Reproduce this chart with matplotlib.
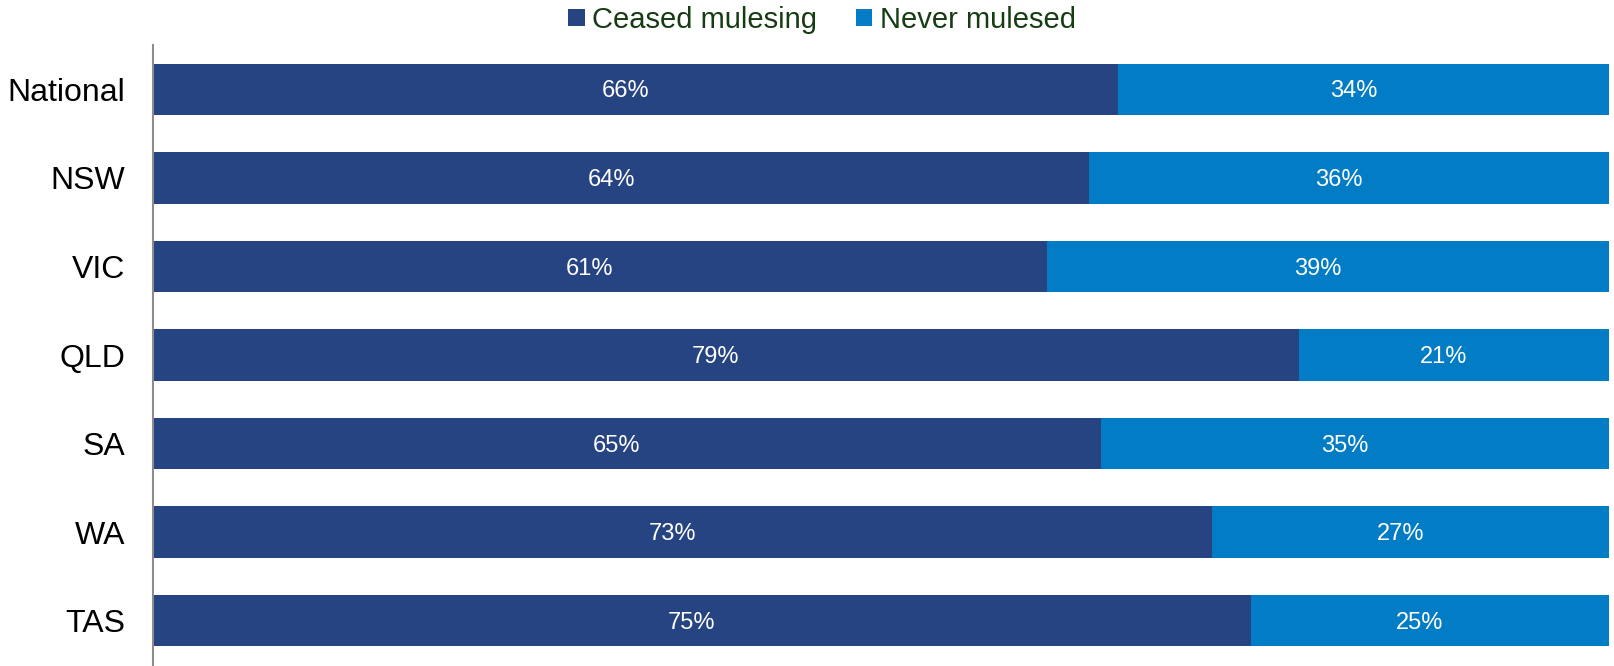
import matplotlib
matplotlib.use("Agg")
import matplotlib.pyplot as plt
import numpy as np
from matplotlib.patches import Patch

categories = ["National", "NSW", "VIC", "QLD", "SA", "WA", "TAS"]
ceased = [66.3, 64.3, 61.4, 78.7, 65.1, 72.7, 75.4]
never = [33.7, 35.7, 38.6, 21.3, 34.9, 27.3, 24.6]
series_names = ["Ceased mulesing", "Never mulesed"]
colors = ["#264382", "#027CC4"]

plt.rcParams['font.family'] = ['Liberation Sans', 'DejaVu Sans']

fig = plt.figure(figsize=(16.14, 6.66), dpi=100)
ax = fig.add_axes([153/1614, 1/666, (1609 - 153)/1614, 620/666])

y = np.arange(len(categories))
h = 0.58
ax.barh(y, ceased, height=h, color=colors[0], linewidth=0)
ax.barh(y, never, left=ceased, height=h, color=colors[1], linewidth=0)

off = (-7.2, -1.5)
for i in range(len(categories)):
    ax.annotate(f"{ceased[i]:.0f}%", (ceased[i] / 2, y[i]), xytext=off, textcoords="offset points",
                ha="center", va="center", color="white", fontsize=17)
    ax.annotate(f"{never[i]:.0f}%", (ceased[i] + never[i] / 2, y[i]), xytext=off,
                textcoords="offset points", ha="center", va="center", color="white", fontsize=17)

ax.set_xlim(0, 100)
ax.set_ylim(len(categories) - 0.5, -0.5)
ax.set_yticks(y)
ax.set_yticklabels(categories, fontsize=23)
ax.tick_params(axis="y", length=0, pad=20)
ax.set_xticks([])
for s in ["top", "right", "bottom"]:
    ax.spines[s].set_visible(False)
ax.spines["left"].set_color("#8c8c8c")
ax.spines["left"].set_linewidth(1.5)

handles = [Patch(facecolor=colors[0]), Patch(facecolor=colors[1])]
fig.legend(handles, series_names, loc="center", bbox_to_anchor=(822/1614, 1 - 20/666),
           ncol=2, frameon=False, fontsize=21, handlelength=0.55, handleheight=0.55,
           handletextpad=0.25, columnspacing=1.35, labelcolor="#163c12")

fig.savefig("out.png", dpi=100)
